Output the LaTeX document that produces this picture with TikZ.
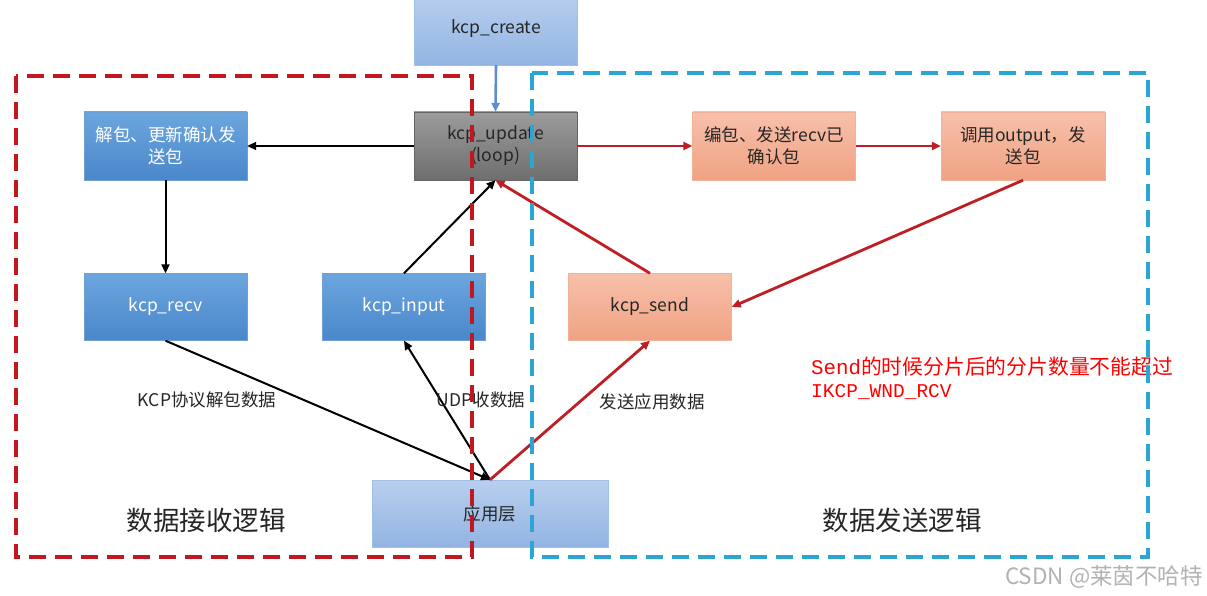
\documentclass[tikz,border=0pt]{standalone}
\usepackage{fontspec}
\setmainfont{Noto Sans CJK SC}
\newfontfamily\monof{Liberation Mono}
\usetikzlibrary{arrows.meta}
\definecolor{bluetop}{HTML}{6CA6DE}
\definecolor{bluebot}{HTML}{4A87CB}
\definecolor{orgtop}{HTML}{F7C0AA}
\definecolor{orgbot}{HTML}{F0A283}
\definecolor{graytop}{HTML}{9C9C9C}
\definecolor{graybot}{HTML}{6E6E6E}
\definecolor{ltop}{HTML}{B8CFEE}
\definecolor{lbot}{HTML}{92B4E3}
\definecolor{dred}{HTML}{C4161F}
\definecolor{dblue}{HTML}{2BA5D3}
\definecolor{ared}{HTML}{BE1E24}
\definecolor{ablue}{HTML}{5A8ED0}
\tikzset{
  box/.style={minimum width=163pt, minimum height=68pt, inner sep=2pt, align=center, font=\fontsize{17.5}{22}\selectfont},
  bluebox/.style={box, top color=bluetop, bottom color=bluebot, draw=bluebot!80!white, text=white},
  orgbox/.style={box, top color=orgtop, bottom color=orgbot, draw=orgbot!85!white, text=black!85},
  graybox/.style={box, top color=graytop, bottom color=graybot, draw=black!60, text=black!85},
  lbox/.style={box, top color=ltop, bottom color=lbot, draw=lbot!85!white, text=black!85},
  tip/.style={-{Triangle[length=9pt,width=8pt]}},
  blk/.style={tip, line width=2pt, draw=black},
  redarr/.style={tip, line width=2.8pt, draw=ared},
  bluearr/.style={tip, line width=2.6pt, draw=ablue},
  lbl/.style={font=\fontsize{17.5}{20}\selectfont, text=black!85},
  big/.style={font=\fontsize{26.5}{30}\selectfont, text=black!85},
  dashbox/.style={line width=3.5pt, dash pattern=on 17pt off 9pt}
}
\begin{document}
\begin{tikzpicture}[x=1pt,y=-1pt]
\useasboundingbox (0,0) rectangle (1207,596);
\fill[white] (0,0) rectangle (1207,596);
% boxes
\node[lbox, minimum height=72pt] (create) at (496,29) {kcp\_create};
\node[graybox] (update) at (495.5,146) {kcp\_update\\(loop)};
\node[bluebox] (unpack) at (165.5,146) {解包、更新确认发\\送包};
\node[orgbox] (pack) at (774,146) {编包、发送recv已\\确认包};
\node[orgbox, minimum width=164pt] (output) at (1023,146) {调用output，发\\送包};
\node[bluebox, minimum height=67pt] (recv) at (165.5,307) {kcp\_recv};
\node[bluebox, minimum height=67pt] (input) at (404,307) {kcp\_input};
\node[orgbox, minimum height=67pt] (send) at (650,307) {kcp\_send};
\node[lbox, minimum width=236pt, minimum height=67pt] (app) at (490,513.5) {应用层};
% connectors
\draw[bluearr] (create.south) -- (update.north);
\draw[blk] (update.west) -- (unpack.east);
\draw[blk] (unpack.south) -- (recv.north);
\draw[blk] (recv.south) -- (app.north);
\draw[blk] (app.north) -- (input.south);
\draw[blk] (input.north) -- (update.south);
\draw[redarr] (send.north) -- (update.south);
\draw[redarr] (update.east) -- (pack.west);
\draw[redarr] (pack.east) -- (output.west);
\draw[redarr] (output.south) -- (send.east);
\draw[redarr] (app.north) -- (send.south);
% labels
\node[lbl] (l1) at (207,400) {KCP协议解包数据};
\node[lbl] (l2) at (481,400) {UDP收数据};
\node[lbl] (l3) at (652,402) {发送应用数据};
\node[big] (t1) at (206,520) {数据接收逻辑};
\node[big] (t2) at (902,520) {数据发送逻辑};
\node[anchor=west, text=red, font=\fontsize{20.8}{24}\selectfont, inner sep=0pt] (note1) at (811,367) {{\monof Send}的时候分片后的分片数量不能超过};
\node[anchor=west, text=red, font=\monof\fontsize{19.5}{24}\selectfont, inner sep=0pt] (note2) at (811,392) {IKCP\_WND\_RCV};
\node[anchor=east, text=black!30, font=\fontsize{22.5}{24}\selectfont, inner sep=0pt] (wm) at (1203,577) {CSDN @莱茵不哈特};
% dashed regions
\draw[dashbox, draw=dred] (16,76) rectangle (472,557);
\draw[dashbox, draw=dblue] (532,73) rectangle (1148,557);
\end{tikzpicture}
\end{document}
